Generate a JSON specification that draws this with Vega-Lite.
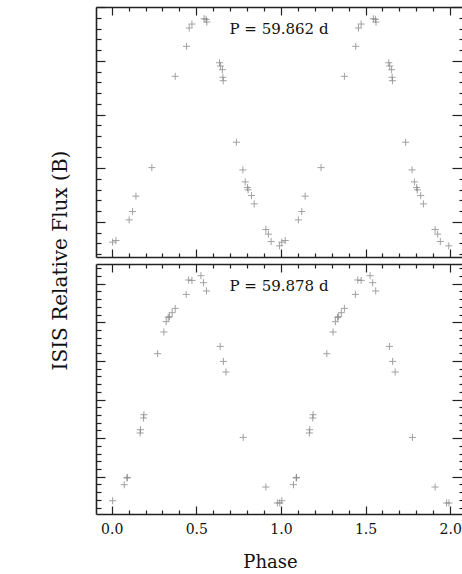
{
  "$schema": "https://vega.github.io/schema/vega-lite/v6.json",
  "padding": {"left": 50, "top": 6, "right": 0, "bottom": 0},
  "bounds": "flush",
  "spacing": 7,
  "config": {"view": {"stroke": null}, "font": "DejaVu Serif"},
  "datasets": {
    "top": [
      {"phase": 0.005, "flux": -378}, {"phase": 0.025, "flux": -348}, {"phase": 0.103, "flux": 37}, {"phase": 0.123, "flux": 192},
      {"phase": 0.143, "flux": 479}, {"phase": 0.237, "flux": 1011}, {"phase": 0.375, "flux": 2713}, {"phase": 0.442, "flux": 3272},
      {"phase": 0.458, "flux": 3613}, {"phase": 0.474, "flux": 3687}, {"phase": 0.546, "flux": 3786}, {"phase": 0.558, "flux": 3775},
      {"phase": 0.562, "flux": 3724}, {"phase": 0.637, "flux": 2966}, {"phase": 0.643, "flux": 2905}, {"phase": 0.654, "flux": 2836},
      {"phase": 0.657, "flux": 2695}, {"phase": 0.659, "flux": 2631}, {"phase": 0.737, "flux": 1484}, {"phase": 0.775, "flux": 968},
      {"phase": 0.789, "flux": 745}, {"phase": 0.802, "flux": 639}, {"phase": 0.806, "flux": 596}, {"phase": 0.826, "flux": 490},
      {"phase": 0.842, "flux": 335}, {"phase": 0.911, "flux": -143}, {"phase": 0.926, "flux": -229}, {"phase": 0.942, "flux": -367},
      {"phase": 0.992, "flux": -447},
      {"phase": 1.005, "flux": -378}, {"phase": 1.025, "flux": -348}, {"phase": 1.103, "flux": 37}, {"phase": 1.123, "flux": 192},
      {"phase": 1.143, "flux": 479}, {"phase": 1.237, "flux": 1011}, {"phase": 1.375, "flux": 2713}, {"phase": 1.442, "flux": 3272},
      {"phase": 1.458, "flux": 3613}, {"phase": 1.474, "flux": 3687}, {"phase": 1.546, "flux": 3786}, {"phase": 1.558, "flux": 3775},
      {"phase": 1.562, "flux": 3724}, {"phase": 1.637, "flux": 2966}, {"phase": 1.643, "flux": 2905}, {"phase": 1.654, "flux": 2836},
      {"phase": 1.657, "flux": 2695}, {"phase": 1.659, "flux": 2631}, {"phase": 1.737, "flux": 1484}, {"phase": 1.775, "flux": 968},
      {"phase": 1.789, "flux": 745}, {"phase": 1.802, "flux": 639}, {"phase": 1.806, "flux": 596}, {"phase": 1.826, "flux": 490},
      {"phase": 1.842, "flux": 335}, {"phase": 1.911, "flux": -143}, {"phase": 1.926, "flux": -229}, {"phase": 1.942, "flux": -367},
      {"phase": 1.992, "flux": -447}
    ],
    "bottom": [
      {"phase": 0.005, "flux": -622}, {"phase": 0.074, "flux": -207}, {"phase": 0.090, "flux": -34}, {"phase": 0.092, "flux": -18},
      {"phase": 0.168, "flux": 1132}, {"phase": 0.170, "flux": 1218}, {"phase": 0.188, "flux": 1521}, {"phase": 0.190, "flux": 1606},
      {"phase": 0.271, "flux": 3187}, {"phase": 0.308, "flux": 3749}, {"phase": 0.322, "flux": 4016}, {"phase": 0.334, "flux": 4127},
      {"phase": 0.341, "flux": 4145}, {"phase": 0.357, "flux": 4249}, {"phase": 0.375, "flux": 4360}, {"phase": 0.440, "flux": 4723},
      {"phase": 0.454, "flux": 5096}, {"phase": 0.474, "flux": 5085}, {"phase": 0.527, "flux": 5207}, {"phase": 0.542, "flux": 5026},
      {"phase": 0.560, "flux": 4811}, {"phase": 0.641, "flux": 3376}, {"phase": 0.660, "flux": 2987}, {"phase": 0.675, "flux": 2712},
      {"phase": 0.777, "flux": 1018}, {"phase": 0.911, "flux": -267}, {"phase": 0.979, "flux": -681}, {"phase": 0.993, "flux": -681},
      {"phase": 1.005, "flux": -622}, {"phase": 1.074, "flux": -207}, {"phase": 1.090, "flux": -34}, {"phase": 1.092, "flux": -18},
      {"phase": 1.168, "flux": 1132}, {"phase": 1.170, "flux": 1218}, {"phase": 1.188, "flux": 1521}, {"phase": 1.190, "flux": 1606},
      {"phase": 1.271, "flux": 3187}, {"phase": 1.308, "flux": 3749}, {"phase": 1.322, "flux": 4016}, {"phase": 1.334, "flux": 4127},
      {"phase": 1.341, "flux": 4145}, {"phase": 1.357, "flux": 4249}, {"phase": 1.375, "flux": 4360}, {"phase": 1.440, "flux": 4723},
      {"phase": 1.454, "flux": 5096}, {"phase": 1.474, "flux": 5085}, {"phase": 1.527, "flux": 5207}, {"phase": 1.542, "flux": 5026},
      {"phase": 1.560, "flux": 4811}, {"phase": 1.641, "flux": 3376}, {"phase": 1.660, "flux": 2987}, {"phase": 1.675, "flux": 2712},
      {"phase": 1.777, "flux": 1018}, {"phase": 1.911, "flux": -267}, {"phase": 1.979, "flux": -681}, {"phase": 1.993, "flux": -681}
    ]
  },
  "vconcat": [
    {
      "width": 366,
      "height": 250,
      "data": {"name": "top"},
      "title": {"text": "P = 59.862 d", "orient": "top", "anchor": "middle", "offset": -31, "baseline": "top", "font": "DejaVu Serif", "fontSize": 15, "fontWeight": "normal", "color": "#111"},
      "layer": [
        {
          "mark": {"type": "point", "shape": "M-1,0H1M0,-1V1", "size": 50, "filled": false, "stroke": "#7a7a7a", "strokeWidth": 1},
          "encoding": {
            "x": {"field": "phase", "type": "quantitative", "scale": {"domain": [-0.093, 2.07], "nice": false, "zero": false},
              "axis": {"orient": "bottom", "values": [0,0.1,0.2,0.3,0.4,0.5,0.6,0.7,0.8,0.9,1,1.1,1.2,1.3,1.4,1.5,1.6,1.7,1.8,1.9,2], "labels": false, "title": null, "grid": false,
                "domain": true, "domainColor": "#222", "domainWidth": 1.6, "tickColor": "#222", "tickWidth": 1.2,
                "tickSize": {"condition": {"test": "abs(datum.value*2-round(datum.value*2))<0.001", "value": -8}, "value": -4}}},
            "y": {"field": "flux", "type": "quantitative", "scale": {"domain": [-655, 4005], "nice": false, "zero": false},
              "axis": {"orient": "left", "values": [-600,-400,-200,0,200,400,600,800,1000,1200,1400,1600,1800,2000,2200,2400,2600,2800,3000,3200,3400,3600,3800,4000], "labels": false, "grid": false,
                "domain": true, "domainColor": "#222", "domainWidth": 1.6, "tickColor": "#222", "tickWidth": 1.2,
                "tickSize": {"condition": {"test": "datum.value % 1000 === 0", "value": -9}, "value": -5},
                "title": "ISIS Relative Flux (B)", "titleX": -36, "titleY": 253, "titleAngle": -90, "titleAlign": "center", "titleBaseline": "middle",
                "titleFont": "DejaVu Serif", "titleFontSize": 20, "titleFontWeight": "normal", "titleColor": "#111"}}
          }
        },
        {
          "mark": {"type": "point", "shape": "M-1,0H1M0,-1V1", "size": 50, "filled": false, "opacity": 0},
          "encoding": {
            "x": {"field": "phase", "type": "quantitative",
              "axis": {"orient": "top", "values": [0,0.1,0.2,0.3,0.4,0.5,0.6,0.7,0.8,0.9,1,1.1,1.2,1.3,1.4,1.5,1.6,1.7,1.8,1.9,2], "labels": false, "title": null, "grid": false,
                "domain": true, "domainColor": "#222", "domainWidth": 1.6, "tickColor": "#222", "tickWidth": 1.2,
                "tickSize": {"condition": {"test": "abs(datum.value*2-round(datum.value*2))<0.001", "value": -8}, "value": -4}}},
            "y": {"field": "flux", "type": "quantitative",
              "axis": {"orient": "right", "values": [-600,-400,-200,0,200,400,600,800,1000,1200,1400,1600,1800,2000,2200,2400,2600,2800,3000,3200,3400,3600,3800,4000], "labels": false, "title": null, "grid": false,
                "domain": false, "tickColor": "#222", "tickWidth": 1.2,
                "tickSize": {"condition": {"test": "datum.value % 1000 === 0", "value": -10}, "value": -3}}}
          }
        }
      ],
      "resolve": {"axis": {"x": "independent", "y": "independent"}}
    },
    {
      "width": 366,
      "height": 250,
      "data": {"name": "bottom"},
      "title": {"text": "P = 59.878 d", "orient": "top", "anchor": "middle", "offset": -31, "baseline": "top", "font": "DejaVu Serif", "fontSize": 15, "fontWeight": "normal", "color": "#111"},
      "layer": [
        {
          "mark": {"type": "point", "shape": "M-1,0H1M0,-1V1", "size": 50, "filled": false, "stroke": "#7a7a7a", "strokeWidth": 1},
          "encoding": {
            "x": {"field": "phase", "type": "quantitative", "scale": {"domain": [-0.093, 2.07], "nice": false, "zero": false},
              "axis": {"orient": "bottom", "values": [0,0.1,0.2,0.3,0.4,0.5,0.6,0.7,0.8,0.9,1,1.1,1.2,1.3,1.4,1.5,1.6,1.7,1.8,1.9,2], "grid": false,
                "labelExpr": "abs(datum.value*2-round(datum.value*2))<0.001 ? format(datum.value,'.1f') : ''",
                "labelFont": "DejaVu Serif", "labelFontSize": 14, "labelColor": "#111", "labelPadding": 16.5,
                "domain": true, "domainColor": "#222", "domainWidth": 1.6, "tickColor": "#222", "tickWidth": 1.2,
                "tickSize": {"condition": {"test": "abs(datum.value*2-round(datum.value*2))<0.001", "value": -8}, "value": -4},
                "title": "Phase", "titleX": 174, "titleY": 48, "titleAlign": "center", "titleBaseline": "middle",
                "titleFont": "DejaVu Serif", "titleFontSize": 18, "titleFontWeight": "normal", "titleColor": "#111"}},
            "y": {"field": "flux", "type": "quantitative", "scale": {"domain": [-966, 5510], "nice": false, "zero": false},
              "axis": {"orient": "left", "values": [-800,-600,-400,-200,0,200,400,600,800,1000,1200,1400,1600,1800,2000,2200,2400,2600,2800,3000,3200,3400,3600,3800,4000,4200,4400,4600,4800,5000,5200,5400], "labels": false, "title": null, "grid": false,
                "domain": true, "domainColor": "#222", "domainWidth": 1.6, "tickColor": "#222", "tickWidth": 1.2,
                "tickSize": {"condition": {"test": "datum.value % 1000 === 0", "value": -9}, "value": -5}}}
          }
        },
        {
          "mark": {"type": "point", "shape": "M-1,0H1M0,-1V1", "size": 50, "filled": false, "opacity": 0},
          "encoding": {
            "x": {"field": "phase", "type": "quantitative",
              "axis": {"orient": "top", "values": [0,0.1,0.2,0.3,0.4,0.5,0.6,0.7,0.8,0.9,1,1.1,1.2,1.3,1.4,1.5,1.6,1.7,1.8,1.9,2], "labels": false, "title": null, "grid": false,
                "domain": true, "domainColor": "#222", "domainWidth": 1.6, "tickColor": "#222", "tickWidth": 1.2,
                "tickSize": {"condition": {"test": "abs(datum.value*2-round(datum.value*2))<0.001", "value": -8}, "value": -4}}},
            "y": {"field": "flux", "type": "quantitative",
              "axis": {"orient": "right", "values": [-800,-600,-400,-200,0,200,400,600,800,1000,1200,1400,1600,1800,2000,2200,2400,2600,2800,3000,3200,3400,3600,3800,4000,4200,4400,4600,4800,5000,5200,5400], "labels": false, "title": null, "grid": false,
                "domain": false, "tickColor": "#222", "tickWidth": 1.2,
                "tickSize": {"condition": {"test": "datum.value % 1000 === 0", "value": -10}, "value": -3}}}
          }
        }
      ],
      "resolve": {"axis": {"x": "independent", "y": "independent"}}
    }
  ]
}
